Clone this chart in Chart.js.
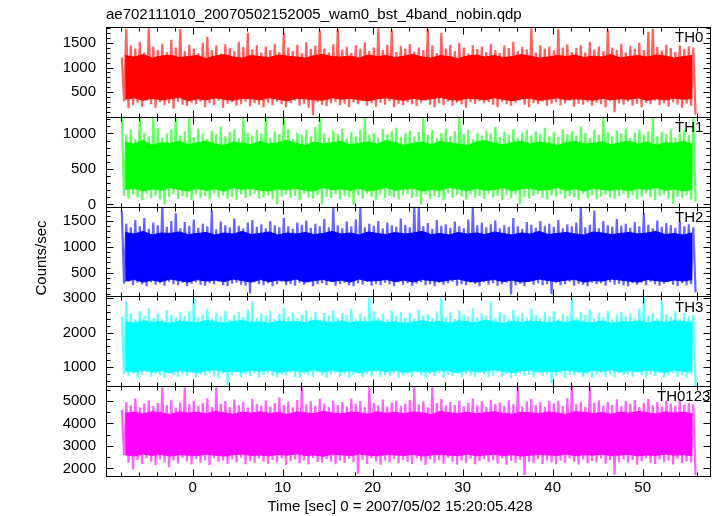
<!DOCTYPE html>
<html>
<head>
<meta charset="utf-8">
<script src="https://cdn.jsdelivr.net/npm/chart.js@4/dist/chart.umd.min.js"></script>
<style>
  html, body { margin: 0; padding: 0; background: #fff; }
  canvas { display: block; }
</style>
</head>
<body>
<canvas id="lc" width="717" height="516"></canvas>
<script>
// ---- data (counts/sec) ----
// spikes: extremes per 0.5 s bin from -8 s to 56 s (128 bins)
// core: dense band per 1 s bin (64 bins)
const binStart = -8;
const spikeBin = 0.5;
const coreBin = 1;
const panelNames = ["TH0", "TH1", "TH2", "TH3", "TH0123"];
const xTitle = "Time [sec] 0 = 2007/05/02 15:20:05.428";
const yTitle = "Counts/sec";
const plotTitle = "ae702111010_20070502152005_wam0_bst_4band_nobin.qdp";

const th0Top = [
  1200, 1780, 1450, 1380, 1520, 1300, 1790, 1420, 1350, 1480, 1310, 1560, 1400, 1780, 1330, 1460,
  1380, 1290, 1500, 1620, 1350, 1440, 1280, 1470, 1390, 1330, 1520, 1410, 1700, 1360, 1450, 1300,
  1420, 1350, 1480, 1310, 1700, 1400, 1330, 1460, 1290, 1510, 1370, 1440, 1750, 1380, 1300, 1470,
  1780, 1360, 1420, 1290, 1450, 1380, 1510, 1330, 1400, 1790, 1350, 1460, 1760, 1310, 1430, 1380,
  1470, 1320, 1400, 1350, 1780, 1440, 1290, 1700, 1380, 1460, 1330, 1500, 1400, 1280, 1450, 1370,
  1420, 1310, 1480, 1350, 1290, 1440, 1390, 1520, 1330, 1410, 1360, 1790, 1300, 1450, 1380, 1420,
  1340, 1780, 1400, 1470, 1310, 1390, 1450, 1300, 1520, 1360, 1420, 1330, 1760, 1400, 1350, 1480,
  1300, 1430, 1380, 1500, 1350, 1720, 1780, 1410, 1340, 1460, 1390, 1310, 1450, 1370, 1420, 1400
];
const th0Bot = [
  320, 180, 240, 290, 210, 330, 260, 190, 300, 240, 280, 170, 310, 250, 220, 290,
  260, 310, 200, 280, 240, 330, 190, 270, 300, 230, 260, 310, 220, 280, 250, 200,
  290, 240, 310, 260, 200, 280, 330, 230, 270, 190, 40, 300, 250, 220, 280, 310,
  240, 270, 200, 300, 260, 330, 230, 280, 210, 290, 250, 320, 200, 270, 240, 300,
  260, 220, 290, 330, 250, 200, 280, 240, 310, 230, 290, 260, 190, 300, 270, 320,
  280, 300, 250, 200, 310, 260, 230, 290, 340, 250, 200, 280, 260, 310, 230, 270,
  300, 240, 280, 330, 210, 270, 250, 300, 230, 290, 260, 200, 320, 100, 280, 250,
  310, 230, 270, 200, 290, 260, 330, 240, 280, 210, 300, 250, 190, 270, 230, 50
];
const th0CoreTop = [
  1240, 1210, 1260, 1190, 1230, 1250, 1200, 1220, 1240, 1180, 1230, 1260, 1210, 1190, 1240, 1220,
  1200, 1250, 1230, 1210, 1190, 1240, 1260, 1220, 1210, 1230, 1190, 1250, 1220, 1240, 1200, 1230,
  1260, 1210, 1190, 1240, 1220, 1180, 1230, 1250, 1210, 1240, 1200, 1220, 1260, 1230, 1190, 1210,
  1240, 1220, 1250, 1200, 1230, 1210, 1260, 1190, 1220, 1240, 1210, 1250, 1230, 1190, 1220, 1240
];
const th0CoreBot = [
  360, 390, 340, 380, 350, 370, 400, 330, 370, 350, 390, 360, 340, 380, 370, 350,
  390, 360, 330, 380, 370, 350, 340, 390, 360, 380, 350, 330, 370, 390, 360, 340,
  380, 350, 370, 400, 360, 340, 380, 370, 350, 390, 360, 330, 370, 380, 340, 360,
  390, 350, 370, 360, 340, 380, 350, 370, 360, 390, 340, 370, 350, 380, 360, 370
];

const th1Top = [
  1225, 980, 1050, 920, 1225, 1010, 960, 1225, 1080, 940, 1000, 1060, 1225, 970, 1030, 1225,
  950, 1070, 1000, 920, 1040, 990, 1100, 960, 1020, 1060, 930, 1225, 1010, 970, 1050, 1000,
  1225, 940, 1030, 990, 1225, 1060, 920, 1010, 980, 1050, 960, 1090, 1225, 1000, 940, 1040,
  990, 1070, 930, 1020, 960, 1050, 1225, 980, 1010, 940, 1060, 990, 1030, 1080, 950, 1010,
  1040, 960, 1020, 1225, 980, 1050, 940, 1010, 1070, 960, 1030, 1225, 990, 1050, 920, 1010,
  970, 1040, 1000, 1090, 950, 1020, 980, 1060, 940, 1010, 1050, 970, 1030, 990, 1080, 960,
  1020, 950, 1060, 990, 1030, 970, 1100, 1010, 940, 1050, 980, 1225, 1020, 960, 1040, 1000,
  1070, 940, 1010, 1050, 980, 1030, 1225, 960, 1020, 990, 1060, 940, 1010, 1050, 980, 1225
];
const th1Bot = [
  120, 80, 140, 100, 60, 150, 90, 130, 70, 0, 110, 150, 80, 120, 100, 60,
  140, 90, 120, 70, 150, 100, 130, 80, 110, 60, 140, 90, 120, 150, 80, 100,
  130, 70, 0, 110, 140, 90, 120, 60, 150, 100, 80, 130, 0, 110, 90, 140,
  70, 120, 100, 0, 130, 80, 150, 110, 60, 140, 90, 120, 100, 70, 130, 150,
  90, 110, 0, 140, 80, 120, 100, 60, 150, 90, 130, 110, 70, 140, 100, 120,
  80, 150, 100, 120, 60, 130, 90, 140, 0, 110, 80, 120, 150, 90, 70, 130,
  110, 140, 80, 120, 100, 60, 150, 90, 130, 70, 110, 140, 100, 80, 120, 150,
  90, 130, 70, 110, 150, 100, 60, 120, 140, 80, 10, 110, 90, 130, 70, 40
];
const th1CoreTop = [
  880, 850, 900, 830, 870, 860, 890, 840, 870, 890, 850, 830, 880, 860, 840, 890,
  850, 870, 900, 860, 830, 880, 850, 870, 890, 840, 860, 880, 850, 900, 870, 830,
  860, 880, 840, 890, 870, 850, 830, 880, 900, 860, 840, 870, 890, 850, 880, 860,
  830, 870, 890, 850, 860, 880, 840, 870, 890, 850, 880, 830, 870, 860, 890, 850
];
const th1CoreBot = [
  210, 230, 190, 220, 200, 240, 210, 190, 230, 200, 220, 190, 240, 210, 230, 200,
  190, 220, 210, 230, 200, 190, 240, 210, 220, 200, 230, 190, 210, 240, 200, 220,
  230, 190, 210, 200, 240, 220, 190, 230, 200, 210, 240, 190, 220, 230, 200, 210,
  240, 200, 220, 190, 230, 210, 200, 220, 190, 230, 210, 240, 200, 220, 190, 210
];

const th2Top = [
  1700, 1450, 1380, 1520, 1400, 1560, 1350, 1470, 1420, 1780, 1390, 1500, 1650, 1360, 1480, 1410,
  1530, 1370, 1450, 1400, 1700, 1340, 1490, 1420, 1380, 1550, 1410, 1360, 1470, 1520, 1390, 1440,
  1360, 1500, 1420, 1380, 1560, 1400, 1350, 1470, 1430, 1510, 1370, 1450, 1400, 1540, 1380, 1780,
  1420, 1360, 1490, 1400, 1530, 1750, 1380, 1450, 1410, 1500, 1360, 1470, 1420, 1390, 1550, 1430,
  1380, 1780, 1780, 1400, 1460, 1350, 1520, 1410, 1440, 1370, 1490, 1400, 1360, 1530, 1780, 1420,
  1470, 1380, 1440, 1510, 1360, 1420, 1390, 1560, 1400, 1350, 1480, 1430, 1370, 1500, 1410, 1450,
  1390, 1520, 1360, 1440, 1400, 1470, 1780, 1380, 1430, 1700, 1360, 1500, 1420, 1390, 1540, 1410,
  1450, 1370, 1480, 1400, 1650, 1430, 1360, 1510, 1390, 1460, 1420, 1370, 1490, 1400, 1440, 1380
];
const th2Bot = [
  290, 330, 260, 310, 280, 240, 320, 270, 300, 250, 330, 280, 260, 310, 240, 290,
  320, 270, 250, 300, 280, 330, 260, 240, 290, 310, 270, 250, 100, 320, 280, 260,
  300, 240, 280, 330, 260, 290, 250, 310, 270, 320, 240, 280, 300, 260, 330, 250,
  280, 310, 260, 240, 300, 270, 330, 250, 290, 260, 310, 280, 240, 320, 270, 300,
  250, 290, 320, 260, 280, 240, 310, 270, 300, 330, 250, 280, 260, 310, 290, 240,
  320, 270, 300, 250, 280, 310, 80, 260, 290, 240, 330, 270, 300, 260, 280, 90,
  310, 260, 280, 330, 250, 290, 270, 240, 310, 280, 300, 250, 320, 270, 290, 260,
  240, 300, 270, 310, 260, 330, 280, 250, 290, 320, 270, 240, 300, 260, 280, 120
];
const th2CoreTop = [
  1280, 1250, 1300, 1230, 1270, 1260, 1290, 1240, 1260, 1280, 1230, 1270, 1250, 1300, 1240, 1260,
  1290, 1230, 1270, 1250, 1280, 1240, 1260, 1300, 1250, 1270, 1230, 1290, 1260, 1240, 1280, 1250,
  1270, 1300, 1240, 1260, 1230, 1280, 1250, 1270, 1240, 1290, 1260, 1230, 1270, 1250, 1300, 1240,
  1260, 1280, 1250, 1230, 1290, 1270, 1240, 1260, 1280, 1250, 1270, 1300, 1240, 1260, 1230, 1270
];
const th2CoreBot = [
  340, 370, 320, 360, 330, 380, 350, 320, 370, 340, 360, 330, 380, 350, 320, 370,
  330, 360, 340, 380, 320, 350, 370, 330, 360, 320, 380, 340, 350, 370, 330, 360,
  320, 370, 350, 330, 360, 380, 340, 320, 350, 370, 330, 360, 320, 340, 380, 350,
  330, 360, 370, 320, 350, 340, 380, 360, 340, 320, 370, 350, 330, 360, 340, 370
];

const th3Top = [
  2450, 2900, 2550, 2380, 2620, 2480, 2700, 2420, 2560, 2390, 2650, 2500, 2430, 2580, 2470, 2610,
  3000, 2440, 2530, 2680, 2400, 2570, 2460, 2620, 2380, 2510, 2590, 2450, 2660, 2900, 2420, 2550,
  2480, 2630, 2390, 2540, 2700, 2460, 2580, 2410, 2520, 2650, 2440, 2600, 2370, 2560, 2490, 2640,
  2420, 2570, 2500, 2680, 2390, 2530, 2460, 3020, 2610, 2440, 2550, 2380, 2640, 2480, 2590, 2430,
  2560, 2400, 2670, 2490, 2530, 2420, 2610, 3000, 2450, 2580, 2390, 2640, 2510, 2460, 2700, 2430,
  2550, 2480, 2900, 2410, 2600, 2520, 2380, 2650, 2470, 2560, 2430, 2690, 2500, 2410, 2580, 2460,
  2620, 2390, 2540, 2480, 2950, 2430, 2590, 2510, 2660, 2400, 2570, 2450, 2630, 2380, 2520, 2600,
  2470, 2550, 2420, 2680, 3020, 2490, 2560, 2410, 2900, 2530, 2450, 2620, 2390, 2570, 2480, 2500
];
const th3Bot = [
  800, 740, 820, 700, 780, 850, 730, 810, 760, 690, 830, 770, 720, 800, 750, 840,
  710, 790, 760, 830, 740, 680, 810, 500, 770, 850, 720, 790, 740, 820, 700, 780,
  830, 750, 710, 800, 760, 840, 720, 690, 810, 770, 730, 850, 760, 700, 790, 820,
  740, 810, 690, 770, 830, 720, 800, 750, 860, 710, 780, 740, 820, 690, 760, 800,
  720, 840, 770, 700, 810, 750, 830, 690, 780, 740, 860, 720, 800, 760, 710, 830,
  790, 710, 760, 840, 730, 800, 690, 770, 820, 740, 780, 710, 850, 760, 800, 550,
  740, 820, 700, 780, 760, 830, 720, 800, 690, 770, 840, 730, 790, 710, 820, 760,
  800, 730, 850, 760, 710, 790, 740, 820, 700, 780, 830, 720, 770, 690, 810, 450
];
const th3CoreTop = [
  2310, 2270, 2340, 2290, 2320, 2260, 2330, 2300, 2280, 2350, 2300, 2270, 2320, 2340, 2290, 2310,
  2260, 2330, 2300, 2320, 2280, 2350, 2310, 2290, 2330, 2270, 2320, 2300, 2340, 2280, 2310, 2260,
  2300, 2340, 2290, 2320, 2270, 2330, 2310, 2280, 2350, 2300, 2260, 2320, 2290, 2330, 2310, 2270,
  2320, 2290, 2340, 2300, 2280, 2330, 2260, 2310, 2300, 2330, 2280, 2320, 2290, 2340, 2310, 2300
];
const th3CoreBot = [
  890, 860, 920, 870, 900, 840, 910, 880, 850, 900, 930, 870, 890, 860, 910, 880,
  920, 850, 890, 900, 870, 930, 860, 910, 880, 900, 840, 890, 920, 870, 910, 850,
  900, 880, 860, 920, 890, 840, 910, 870, 890, 930, 880, 850, 900, 910, 860, 890,
  870, 920, 890, 850, 910, 880, 930, 860, 900, 870, 910, 890, 850, 920, 880, 890
];

const th4Top = [
  4600, 4950, 4800, 5100, 4720, 4880, 5020, 4760, 4900, 5600, 4820, 5050, 4700, 4930, 5600, 4850,
  5000, 4780, 4910, 5120, 4740, 5600, 4870, 4990, 4730, 5060, 4820, 4950, 4700, 5080, 4860, 4790,
  5020, 4750, 4900, 5150, 4810, 4960, 4720, 5040, 5600, 4840, 4980, 4770, 5090, 4880, 4730, 5010,
  4820, 4950, 4760, 5100, 4870, 4990, 4730, 5600, 4900, 4800, 5060, 4750, 4930, 5020, 4780, 4880,
  5040, 5600, 4850, 4970, 4720, 5600, 4900, 5080, 4790, 4950, 4830, 5010, 4760, 4920, 5100, 4800,
  4980, 4740, 5050, 4870, 4930, 4780, 5030, 4850, 5600, 4760, 4970, 5090, 4820, 4940, 4730, 5010,
  4880, 5000, 4770, 5120, 5600, 4850, 4960, 4740, 5600, 4900, 5030, 4790, 4950, 4820, 5070, 4760,
  4990, 4860, 5040, 4730, 4920, 5080, 4800, 4950, 4760, 5020, 4880, 4790, 5060, 4840, 4910, 4850
];
const th4Bot = [
  2600, 2250, 1950, 2380, 2200, 2450, 2300, 2150, 2400, 2280, 2050, 2350, 2220, 2480, 2310, 2180,
  2420, 2260, 2370, 2150, 2460, 2290, 2340, 2200, 2410, 2270, 2480, 2190, 2330, 2250, 2440, 2300,
  2210, 2380, 2270, 2450, 2160, 2320, 2400, 2230, 2350, 2180, 2470, 2290, 2250, 2410, 2300, 2190,
  2360, 2240, 2430, 2280, 1750, 2390, 2200, 2460, 2310, 2170, 2350, 2270, 2420, 2230, 2380, 2290,
  2200, 2440, 2320, 2160, 2400, 2260, 2370, 2210, 2480, 2300, 2180, 2350, 2250, 2430, 2190, 2330,
  2410, 2280, 2370, 2220, 2450, 2170, 2330, 2260, 2390, 1700, 2300, 2240, 2420, 2200, 2360, 2280,
  2190, 2350, 2250, 2460, 2300, 2180, 2400, 2230, 2330, 2280, 2440, 2210, 2370, 1720, 2290, 2410,
  2250, 2380, 2170, 2320, 2450, 2260, 2200, 2400, 2290, 2350, 2180, 2430, 2240, 2310, 2270, 1700
];
const th4CoreTop = [
  4450, 4500, 4420, 4520, 4470, 4400, 4510, 4460, 4490, 4430, 4530, 4470, 4410, 4500, 4450, 4520,
  4440, 4490, 4400, 4510, 4470, 4430, 4540, 4460, 4420, 4500, 4480, 4410, 4520, 4450, 4490, 4430,
  4510, 4460, 4400, 4530, 4470, 4440, 4500, 4420, 4480, 4520, 4450, 4410, 4500, 4470, 4430, 4510,
  4460, 4400, 4520, 4490, 4440, 4480, 4410, 4500, 4450, 4530, 4470, 4420, 4510, 4460, 4490, 4440
];
const th4CoreBot = [
  2600, 2560, 2640, 2580, 2620, 2550, 2610, 2590, 2570, 2630, 2590, 2550, 2610, 2640, 2580, 2600,
  2560, 2620, 2590, 2650, 2570, 2600, 2540, 2630, 2610, 2570, 2640, 2590, 2560, 2620, 2600, 2580,
  2630, 2550, 2600, 2620, 2590, 2570, 2640, 2560, 2600, 2630, 2570, 2610, 2550, 2590, 2620, 2600,
  2580, 2640, 2560, 2610, 2590, 2630, 2570, 2600, 2620, 2560, 2600, 2580, 2640, 2590, 2610, 2570
];

// axis ranges and tick labels of each panel
const yMin = [7, -30, 44, 454, 1665];
const yMax = [1816, 1234, 1780, 3040, 5653];
const yTicks = [
  [500, 1000, 1500],
  [0, 500, 1000],
  [500, 1000, 1500],
  [1000, 2000, 3000],
  [2000, 3000, 4000, 5000]
];
const yMinor = [100, 100, 100, 200, 500];
const xMin = -9.63, xMax = 57.59;
const xTicks = [0, 10, 20, 30, 40, 50];
const xMinor = 2;

// ---- style ----
const COLORS = ["#ff0000", "#00ff00", "#0000ff", "#00ffff", "#ff00ff"];
const SPIKE_COLORS = ["rgba(255,0,0,0.62)", "rgba(0,255,0,0.62)", "rgba(0,0,255,0.6)",
                      "rgba(0,255,255,0.62)", "rgba(255,0,255,0.62)"];
const FONT = "'Liberation Sans', Arial, Helvetica, sans-serif";

const series = [
  [th0Top, th0Bot, th0CoreTop, th0CoreBot],
  [th1Top, th1Bot, th1CoreTop, th1CoreBot],
  [th2Top, th2Bot, th2CoreTop, th2CoreBot],
  [th3Top, th3Bot, th3CoreTop, th3CoreBot],
  [th4Top, th4Bot, th4CoreTop, th4CoreBot]
];

const spikeTimes = th0Top.map((_, i) => binStart + spikeBin * i);
const coreTimes = th0CoreTop.map((_, i) => binStart + coreBin * (i + 0.5));

const setTicks = list => s => { s.ticks = list.map(v => ({ value: v })); };

const scales = {
  x: {
    type: "linear",
    min: xMin,
    max: xMax,
    grid: { display: false, drawTicks: false },
    border: { display: false },
    ticks: { padding: 3, autoSkip: false, maxRotation: 0, color: "#000",
             font: { family: FONT, size: 15 }, callback: v => String(v) },
    afterBuildTicks: setTicks(xTicks),
    afterFit: s => { s.height = 40; }
  }
};

// left stacks are laid out last-defined on top, so add panels bottom-up
for (let k = series.length - 1; k >= 0; k--) {
  scales["y" + k] = {
    type: "linear",
    position: "left",
    stack: "panels",
    stackWeight: 1,
    min: yMin[k],
    max: yMax[k],
    grid: { display: false, drawTicks: false },
    border: { display: false },
    ticks: { padding: 10, autoSkip: false, color: "#000",
             font: { family: FONT, size: 15 }, callback: v => String(v) },
    afterBuildTicks: setTicks(yTicks[k]),
    afterFit: s => { s.width = 106; }
  };
}

const datasets = [];
series.forEach(([top, bot, coreTop, coreBot], k) => {
  const id = "y" + k;
  // noisy trace: up to the bin maximum, down to the bin minimum
  const trace = [];
  spikeTimes.forEach((t, i) => {
    trace.push({ x: t + spikeBin * 0.25, y: top[i] });
    trace.push({ x: t + spikeBin * 0.75, y: bot[i] });
  });
  datasets.push({
    yAxisID: id,
    order: 1,
    data: trace,
    borderColor: SPIKE_COLORS[k],
    borderWidth: 2.2,
    pointRadius: 0,
    tension: 0,
    fill: false
  });
  datasets.push({
    yAxisID: id,
    order: 0,
    data: coreTimes.map((t, i) => ({ x: t, y: coreTop[i] })),
    borderColor: COLORS[k],
    borderWidth: 1,
    pointRadius: 0,
    tension: 0,
    fill: false
  });
  datasets.push({
    yAxisID: id,
    order: 0,
    data: coreTimes.map((t, i) => ({ x: t, y: coreBot[i] })),
    borderColor: COLORS[k],
    backgroundColor: COLORS[k],
    borderWidth: 1,
    pointRadius: 0,
    tension: 0,
    fill: "-1"
  });
});

// frames, inward ticks and text labels like qdp draws them
const qdpFrame = {
  id: "qdpFrame",
  afterDraw(chart) {
    const { ctx, chartArea: a } = chart;
    const x = chart.scales.x;
    ctx.save();
    ctx.strokeStyle = "#000";
    ctx.lineWidth = 1;
    const seg = (x1, y1, x2, y2) => { ctx.beginPath(); ctx.moveTo(x1, y1); ctx.lineTo(x2, y2); ctx.stroke(); };
    const left = Math.round(a.left) + 0.5;
    const right = Math.round(a.right) - 0.5;

    series.forEach((_, k) => {
      const s = chart.scales["y" + k];
      const top = Math.round(s.top) + 0.5;
      const bot = Math.round(s.bottom) + 0.5;
      ctx.strokeRect(left, top, right - left, bot - top);

      for (let n = Math.ceil(xMin / xMinor); n * xMinor <= xMax; n++) {
        const v = n * xMinor;
        const px = Math.round(x.getPixelForValue(v)) + 0.5;
        const len = xTicks.includes(v) ? 7 : 4;
        seg(px, top, px, top + len);
        seg(px, bot, px, bot - len);
      }
      const m = yMinor[k];
      for (let n = Math.ceil(s.min / m); n * m <= s.max; n++) {
        const v = n * m;
        const py = Math.round(s.getPixelForValue(v)) + 0.5;
        const len = yTicks[k].includes(v) ? 7 : 4;
        seg(left, py, left + len, py);
        seg(right, py, right - len, py);
      }

      ctx.fillStyle = "#000";
      ctx.font = "15px " + FONT;
      ctx.textAlign = "left";
      ctx.textBaseline = "middle";
      const name = panelNames[k];
      ctx.fillText(name, a.right - (name.length > 3 ? 54 : 36), s.top + 11);
    });

    ctx.fillStyle = "#000";
    ctx.font = "15px " + FONT;
    ctx.textAlign = "center";
    ctx.textBaseline = "middle";
    ctx.fillText(xTitle, 400, 507);
    ctx.translate(42, 258);
    ctx.rotate(-Math.PI / 2);
    ctx.fillText(yTitle, 0, 0);
    ctx.restore();
  }
};

new Chart(document.getElementById("lc"), {
  type: "line",
  data: { datasets },
  options: {
    responsive: false,
    animation: false,
    devicePixelRatio: 1,
    layout: { padding: { top: 0, right: 6, bottom: 0, left: 0 } },
    plugins: {
      legend: { display: false },
      tooltip: { enabled: false },
      title: {
        display: true,
        text: plotTitle,
        align: "start",
        fullSize: false,
        color: "#000",
        font: { family: FONT, size: 15, weight: "normal" },
        padding: { top: 6, bottom: 3 }
      }
    },
    scales
  },
  plugins: [qdpFrame]
});
</script>
</body>
</html>
